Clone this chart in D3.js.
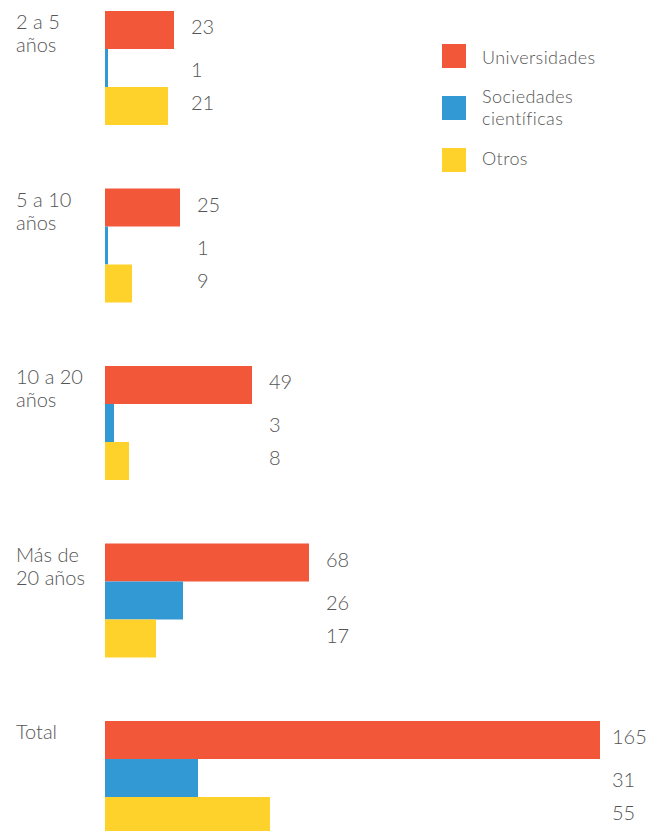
<!DOCTYPE html>
<html>
<head>
<meta charset="utf-8">
<script src="https://cdn.jsdelivr.net/npm/d3@7"></script>
<style>
  html, body { margin: 0; padding: 0; background: #fff; }
  svg { display: block; }
  text { font-family: "Lato", "Open Sans", sans-serif; font-weight: 300; fill: #555; }
</style>
</head>
<body>
<svg id="chart" width="647" height="831"></svg>
<script>
const categories = ["2 a 5|años", "5 a 10|años", "10 a 20|años", "Más de|20 años", "Total"];
const seriesNames = ["Universidades", "Sociedades|científicas", "Otros"];
const universidades = [23, 25, 49, 68, 165];
const sociedades = [1, 1, 3, 26, 31];
const otros = [21, 9, 8, 17, 55];
const colors = ["#F2573A", "#3399D5", "#FFD12B"];

const values = [universidades, sociedades, otros];
const svg = d3.select("#chart");
const W = 647;

const x = d3.scaleLinear().domain([0, 165]).range([105, 600]);
const y0 = d3.scaleBand().domain(categories).range([11, 835]).paddingInner(63.5 / 177.5).paddingOuter(0);
const y1 = d3.scaleBand().domain(seriesNames).range([0, y0.bandwidth()]);

const labelDy = [-4, 1, -4];

categories.forEach((cat, ci) => {
  const g = svg.append("g").attr("transform", `translate(0,${y0(cat)})`);
  const lines = cat.split("|");
  const t = g.append("text").attr("x", 16).attr("y", 18).style("font-size", "20px");
  lines.forEach((l, li) => {
    t.append("tspan").attr("x", 16).attr("dy", li === 0 ? 0 : 23).text(l);
  });
  const groupMax = d3.max(values, v => v[ci]);
  const lx = Math.min(x(groupMax) + 17, W - 35);
  seriesNames.forEach((s, si) => {
    const v = values[si][ci];
    g.append("rect")
      .attr("x", x(0))
      .attr("y", y1(s))
      .attr("width", x(v) - x(0))
      .attr("height", y1.bandwidth())
      .attr("fill", colors[si]);
    g.append("text")
      .attr("x", lx)
      .attr("y", y1(s) + y1.bandwidth() / 2 + labelDy[si])
      .attr("dominant-baseline", "central")
      .style("font-size", "20px")
      .text(v);
  });
});

// Legend
const legendY = d3.scalePoint().domain(seriesNames).range([44, 148]);
const legendBase = [20, 7, 17];
const legend = svg.append("g");
seriesNames.forEach((s, si) => {
  const yy = legendY(s);
  legend.append("rect").attr("x", 442).attr("y", yy).attr("width", 24).attr("height", 24).attr("fill", colors[si]);
  const parts = s.split("|");
  parts.forEach((p, pi) => {
    legend.append("text")
      .attr("x", 482)
      .attr("y", yy + legendBase[si] + pi * 21.5)
      .style("font-size", "18px")
      .style("letter-spacing", "0.4px")
      .text(p);
  });
});
</script>
</body>
</html>
